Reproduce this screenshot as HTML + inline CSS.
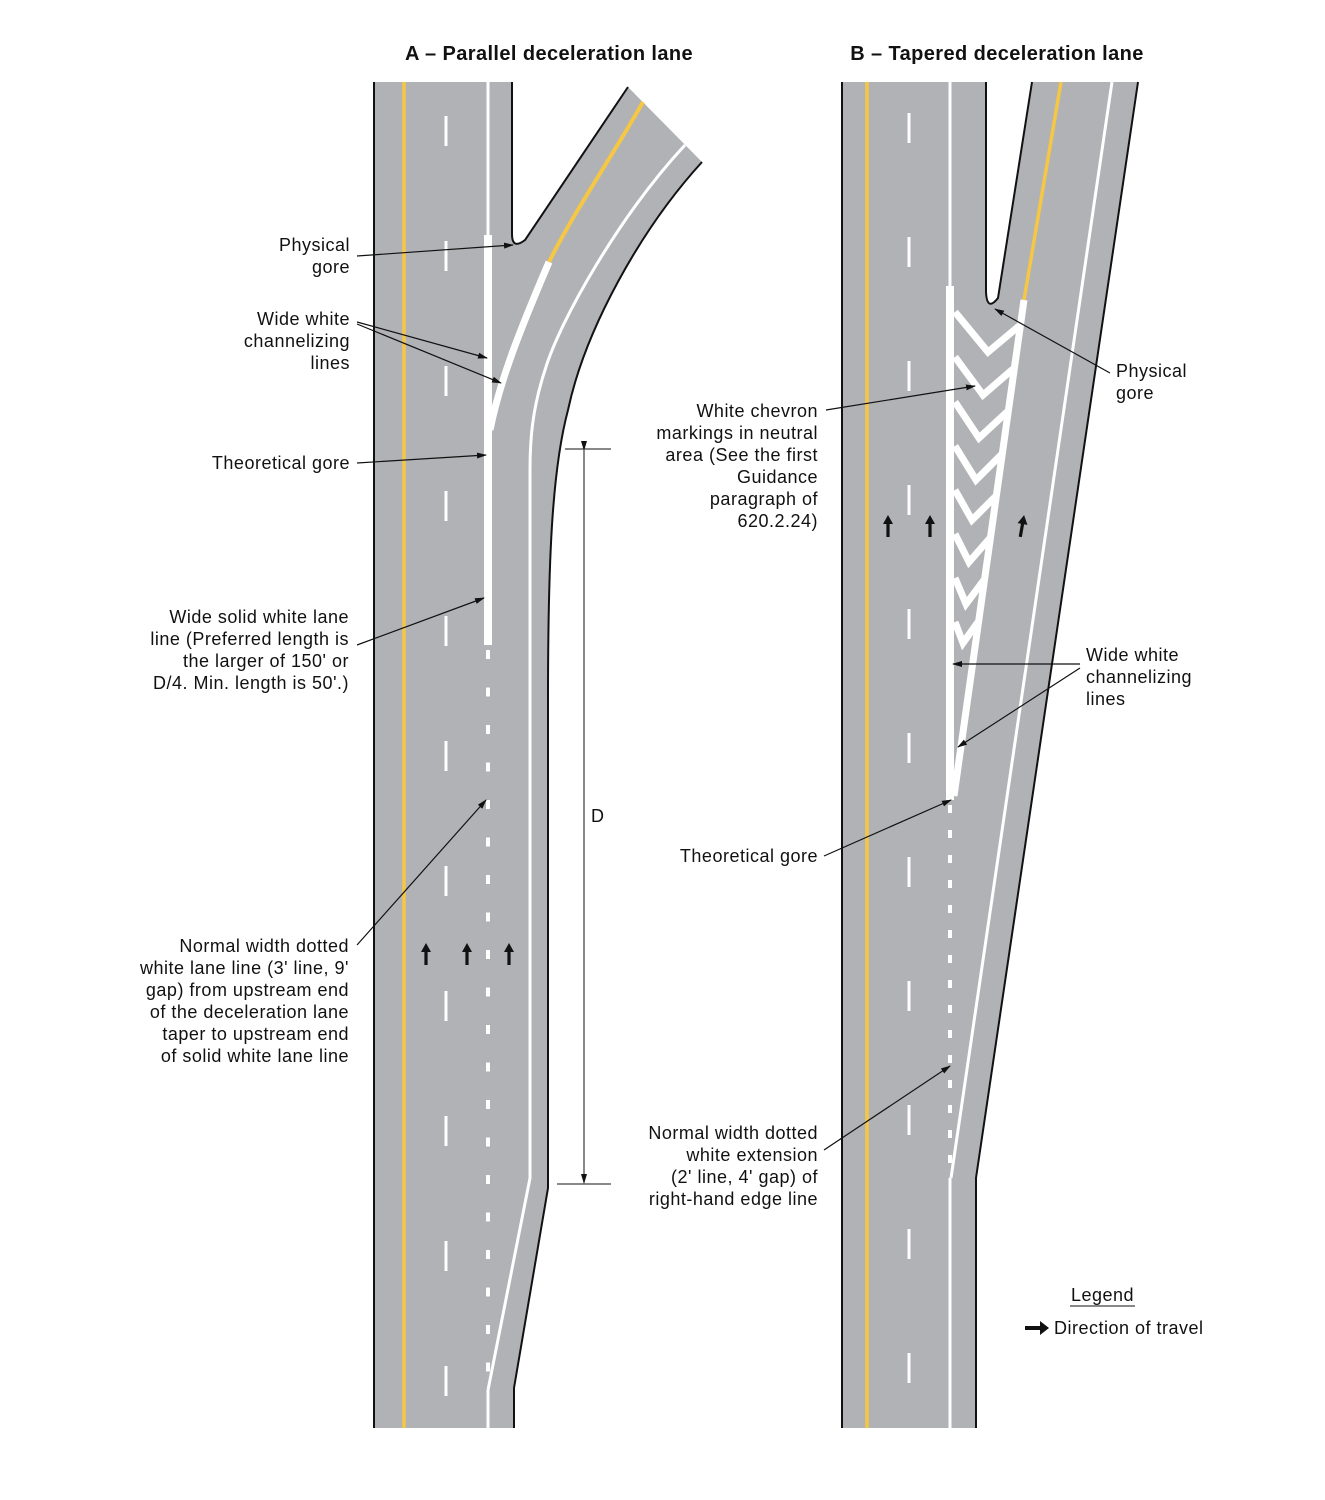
<!DOCTYPE html>
<html><head><meta charset="utf-8"><style>
body{margin:0;background:#fff}
svg{display:block}
text{font-family:"Liberation Sans",Arial,sans-serif;font-size:18px;letter-spacing:0.5px;fill:#111}
</style></head><body>
<svg width="1325" height="1500" viewBox="0 0 1325 1500" xmlns="http://www.w3.org/2000/svg">
<defs>
<marker id="ah" markerWidth="10" markerHeight="8" refX="9" refY="4" orient="auto" markerUnits="userSpaceOnUse">
<path d="M0,1 L10,4 L0,7 Z" fill="#111"/></marker>
<path id="up" d="M-1.6,20 L-1.6,7 L-5,7 L0,-2 L5,7 L1.6,7 L1.6,20 Z" fill="#111"/>
</defs>

<text x="549" y="60" text-anchor="middle" style="font-weight:bold;font-size:20px;letter-spacing:0.4px">A – Parallel deceleration lane</text>
<text x="997" y="60" text-anchor="middle" style="font-weight:bold;font-size:20px;letter-spacing:0.4px">B – Tapered deceleration lane</text>

<!-- PANEL A -->
<path d="M374,82 L512,82 L512,234 Q512,250 525,240 L628,87 L702,162 C640,230 585,330 568,410 C552,470 548,560 548,700 L548,1188 L514,1388 L514,1428 L374,1428 Z" fill="#b1b2b5"/>
<g fill="none" stroke="#111" stroke-width="2">
<path d="M374,82 L374,1428"/>
<path d="M512,82 L512,234 Q512,250 525,240 L628,87"/>
<path d="M702,162 C640,230 585,330 568,410 C552,470 548,560 548,700 L548,1188 L514,1388 L514,1428"/>
</g>
<line x1="404" y1="82" x2="404" y2="1428" stroke="#f6c744" stroke-width="3.5"/>
<line x1="446" y1="116" x2="446" y2="1400" stroke="#fff" stroke-width="3" stroke-dasharray="30,95"/>
<line x1="488" y1="82" x2="488" y2="235" stroke="#fff" stroke-width="3"/>
<line x1="488" y1="235" x2="488" y2="645" stroke="#fff" stroke-width="8"/>
<line x1="488" y1="650" x2="488" y2="1390" stroke="#fff" stroke-width="4" stroke-dasharray="9,28.5"/>
<path d="M488,1390 L488,1428" stroke="#fff" stroke-width="3"/>
<path d="M643,102 C610,160 575,210 549,262" fill="none" stroke="#f6c744" stroke-width="4"/>
<path d="M549,262 C520,330 500,380 490,430" fill="none" stroke="#fff" stroke-width="7"/>
<path d="M685,145 C620,215 560,320 545,370 C532,410 530,440 530,470 L530,1178 L488,1390" fill="none" stroke="#fff" stroke-width="3"/>
<use href="#up" x="426" y="945"/><use href="#up" x="467" y="945"/><use href="#up" x="509" y="945"/>

<!-- D dimension -->
<g stroke="#111" stroke-width="1">
<line x1="565" y1="449" x2="611" y2="449"/>
<line x1="557" y1="1184" x2="611" y2="1184"/>
<line x1="584" y1="450" x2="584" y2="1183" marker-start="url(#ah)" marker-end="url(#ah)"/>
</g>
<text x="591" y="822">D</text>

<!-- A labels -->
<g text-anchor="end">
<text x="350" y="251">Physical</text><text x="350" y="273">gore</text>
<text x="350" y="325">Wide white</text><text x="350" y="347">channelizing</text><text x="350" y="369">lines</text>
<text x="350" y="469">Theoretical gore</text>
<text x="349" y="623">Wide solid white lane</text><text x="349" y="645">line (Preferred length is</text><text x="349" y="667">the larger of 150' or</text><text x="349" y="689">D/4.  Min. length is 50'.)</text>
<text x="349" y="952">Normal width dotted</text><text x="349" y="974">white lane line (3' line, 9'</text><text x="349" y="996">gap) from upstream end</text><text x="349" y="1018">of the deceleration lane</text><text x="349" y="1040">taper to upstream end</text><text x="349" y="1062">of solid white lane line</text>
</g>
<g stroke="#111" stroke-width="1.2" fill="none" marker-end="url(#ah)">
<line x1="357" y1="256" x2="513" y2="245"/>
<line x1="357" y1="322" x2="487" y2="358"/>
<line x1="357" y1="324" x2="501" y2="383"/>
<line x1="357" y1="463" x2="486" y2="455"/>
<line x1="357" y1="645" x2="484" y2="598"/>
<line x1="357" y1="945" x2="486" y2="800"/>
</g>

<!-- PANEL B -->
<path d="M842,82 L986,82 L986,292 Q987,312 998,298 L1032,82 L1138,82 L976,1178 L976,1428 L842,1428 Z" fill="#b1b2b5"/>
<g fill="none" stroke="#111" stroke-width="2">
<path d="M842,82 L842,1428"/>
<path d="M986,82 L986,292 Q987,312 998,298 L1032,82"/>
<path d="M1138,82 L976,1178 L976,1428"/>
</g>
<line x1="867" y1="82" x2="867" y2="1428" stroke="#f6c744" stroke-width="3.5"/>
<line x1="909" y1="113" x2="909" y2="1400" stroke="#fff" stroke-width="3" stroke-dasharray="30,94"/>
<line x1="1061" y1="82" x2="1024" y2="300" stroke="#f6c744" stroke-width="3.5"/>
<line x1="950" y1="82" x2="950" y2="286" stroke="#fff" stroke-width="3"/>
<line x1="950" y1="286" x2="950" y2="800" stroke="#fff" stroke-width="8"/>
<line x1="950" y1="805" x2="950" y2="1178" stroke="#fff" stroke-width="4" stroke-dasharray="8,17"/>
<line x1="950" y1="1178" x2="950" y2="1428" stroke="#fff" stroke-width="3"/>
<line x1="1112" y1="82" x2="951" y2="1178" stroke="#fff" stroke-width="3"/>
<line x1="1024" y1="300" x2="954" y2="796" stroke="#fff" stroke-width="7"/>
<g fill="none" stroke="#fff" stroke-width="7" stroke-linejoin="miter">
<polyline points="955,312 988,352 1019,326"/>
<polyline points="955,357 983,395 1013,369"/>
<polyline points="955,402 979,438 1007,412"/>
<polyline points="955,446 976,480 1002,454"/>
<polyline points="955,490 972,520 996,496"/>
<polyline points="955,534 969,562 990,538"/>
<polyline points="955,578 966,604 984,580"/>
<polyline points="955,622 963,643 978,622"/>
</g>
<use href="#up" x="888" y="517"/><use href="#up" x="930" y="517"/><use href="#up" x="1022" y="517" transform="rotate(10 1022 527)"/>

<!-- B labels -->
<g text-anchor="end">
<text x="818" y="417">White chevron</text><text x="818" y="439">markings in neutral</text><text x="818" y="461">area (See the first</text><text x="818" y="483">Guidance</text><text x="818" y="505">paragraph of</text><text x="818" y="527">620.2.24)</text>
<text x="818" y="862">Theoretical gore</text>
<text x="818" y="1139">Normal width dotted</text><text x="818" y="1161">white extension</text><text x="818" y="1183">(2' line, 4' gap) of</text><text x="818" y="1205">right-hand edge line</text>
</g>
<text x="1116" y="377">Physical</text><text x="1116" y="399">gore</text>
<text x="1086" y="661">Wide white</text><text x="1086" y="683">channelizing</text><text x="1086" y="705">lines</text>
<g stroke="#111" stroke-width="1.2" fill="none" marker-end="url(#ah)">
<line x1="826" y1="410" x2="975" y2="386"/>
<line x1="1110" y1="373" x2="995" y2="309"/>
<line x1="1080" y1="664" x2="953" y2="664"/>
<line x1="1080" y1="668" x2="958" y2="747"/>
<line x1="824" y1="856" x2="951" y2="800"/>
<line x1="824" y1="1150" x2="950" y2="1066"/>
</g>

<!-- Legend -->
<text x="1071" y="1301">Legend</text>
<line x1="1070" y1="1306" x2="1135" y2="1306" stroke="#111" stroke-width="1"/>
<path d="M1025,1326 L1040,1326 L1040,1321 L1049,1328 L1040,1335 L1040,1330 L1025,1330 Z" fill="#111"/>
<text x="1054" y="1334">Direction of travel</text>
</svg>
</body></html>
